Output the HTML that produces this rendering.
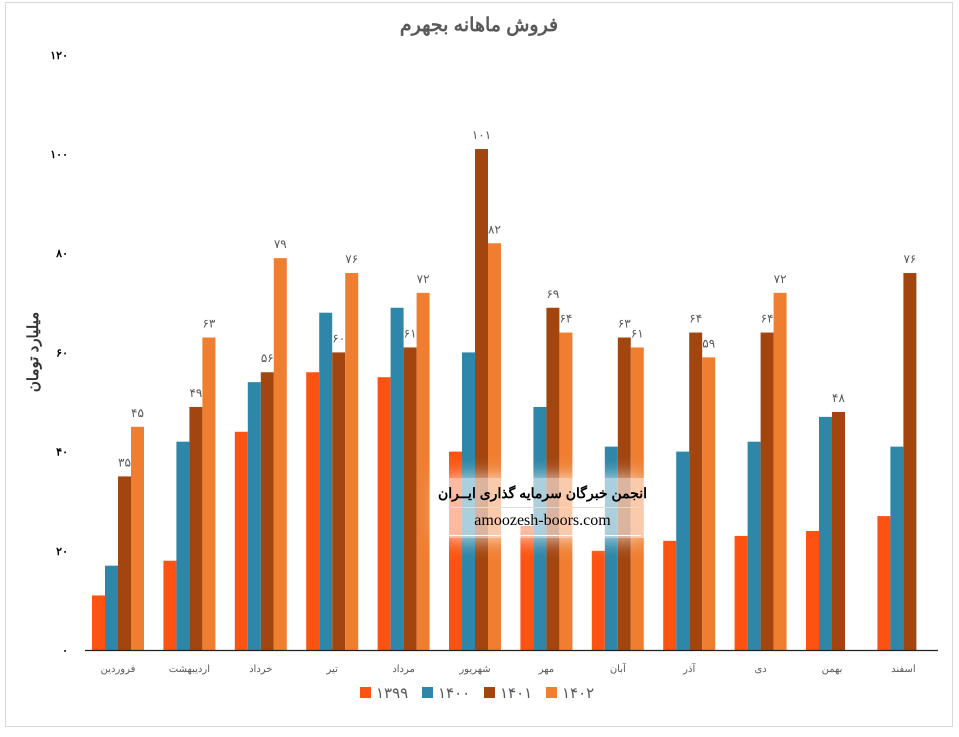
<!DOCTYPE html>
<html><head><meta charset="utf-8">
<style>
body{margin:0;background:#fff;}
#wrap{position:relative;width:959px;height:732px;}
</style></head><body>
<div id="wrap">
<svg id="s" width="959" height="732" xmlns="http://www.w3.org/2000/svg" font-family="'Liberation Sans','Noto Sans CJK SC',sans-serif">
<rect x="5.5" y="2.5" width="947" height="724" fill="#fff" stroke="#d9d9d9"/>
<text x="479" y="31" text-anchor="middle" font-size="19" font-weight="bold" fill="#595959">فروش ماهانه بجهرم</text>
<text transform="translate(38,352) rotate(-90)" text-anchor="middle" font-size="15" font-weight="bold" fill="#333">میلیارد تومان</text>
<g id="g"></g>
<line x1="85" y1="650.5" x2="938" y2="650.5" stroke="#222" stroke-width="1.2"/>
</svg>
<div style="position:absolute;left:440px;top:478px;width:205px;height:60px;background:rgba(255,255,255,0.6);box-shadow:0 0 20px rgba(255,255,255,0.8)"></div>
<div style="position:absolute;left:420px;top:485px;width:245px;text-align:center;white-space:nowrap;font:bold 14px 'Liberation Sans','Noto Sans CJK SC',sans-serif;color:#000">انجمن خبرگان سرمایه گذاری ایــران</div>
<div style="position:absolute;left:448px;top:507px;width:193px;border-top:1px solid #ddd"></div>
<div style="position:absolute;left:440px;top:512px;width:205px;text-align:center;font:16px 'Liberation Serif',serif;color:#000">amoozesh-boors.com</div>
<div style="position:absolute;left:448px;top:535px;width:193px;border-top:1px solid #fff"></div>
</div>
<script>
const fa=n=>String(n).replace(/\d/g,d=>'۰۱۲۳۴۵۶۷۸۹'[d]);
const cats=['فروردین','اردیبهشت','خرداد','تیر','مرداد','شهریور','مهر','آبان','آذر','دی','بهمن','اسفند'];
const data=[[11,17,35,45],[18,42,49,63],[44,54,56,79],[56,68,60,76],[55,69,61,72],[40,60,101,82],[25,49,69,64],[20,41,63,61],[22,40,64,59],[23,42,64,72],[24,47,48,null],[27,41,76,null]];
const col=['#fd5312','#2e87a8','#a2450f','#f07e31'];
let h='';
for(let v=0;v<=120;v+=20){const y=650-4.96*v;h+=`<text x="68" y="${y+4}" text-anchor="end" font-size="11" font-weight="bold" fill="#000">${fa(v)}</text>`;}
cats.forEach((c,i)=>{const cx=118+i*71.4;
 data[i].forEach((v,j)=>{if(v==null)return;const x=cx-26+j*13;const hh=4.96*v;
  h+=`<rect x="${x}" y="${650-hh}" width="13" height="${hh}" fill="${col[j]}"/>`;
  if(j>=2)h+=`<text x="${x+6.5}" y="${650-hh-10}" text-anchor="middle" font-size="12" fill="#595959">${fa(v)}</text>`;});
 h+=`<text x="${cx}" y="672" text-anchor="middle" font-size="10" fill="#595959">${c}</text>`;});
['۱۳۹۹','۱۴۰۰','۱۴۰۱','۱۴۰۲'].forEach((t,k)=>{const x=360+k*62;
 h+=`<rect x="${x}" y="687" width="11" height="11" fill="${col[k]}"/><text x="${x+16}" y="698" font-size="15" fill="#595959">${t}</text>`;});
document.getElementById('g').innerHTML=h;
</script>
</body></html>
